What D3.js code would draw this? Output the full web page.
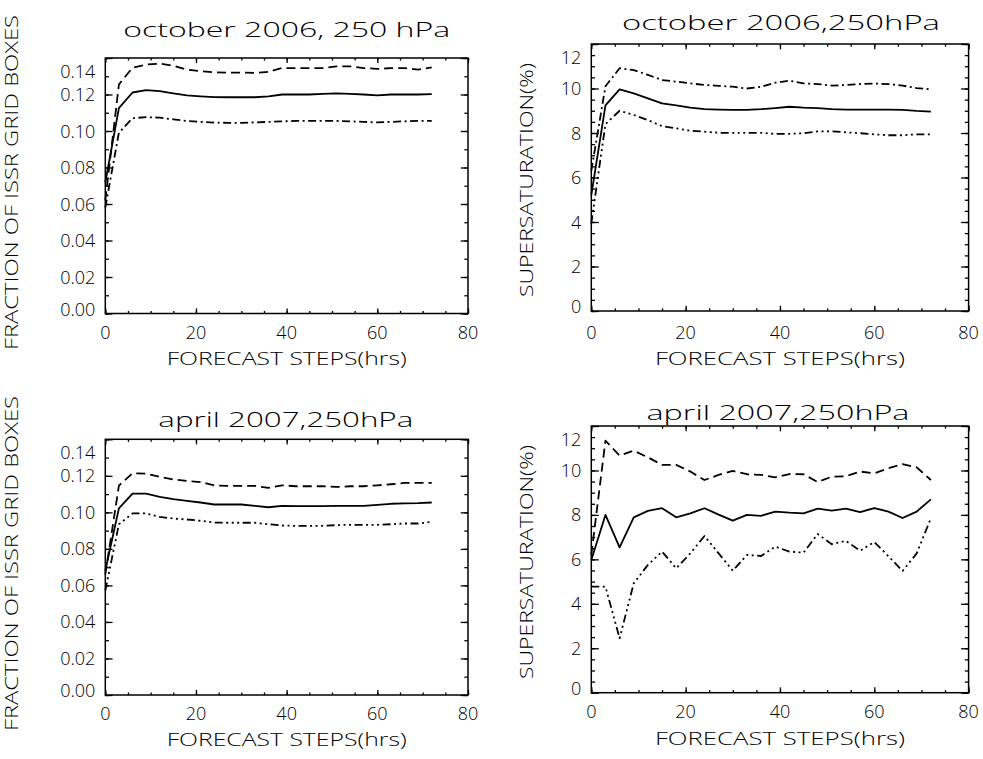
<!DOCTYPE html>
<html>
<head>
<meta charset="utf-8">
<script src="https://cdn.jsdelivr.net/npm/d3@7"></script>
<style>
  body { margin: 0; background: #fff; }
  svg { display: block; }
  text { font-family: "Open Sans", "DejaVu Sans", sans-serif; font-weight: 300; fill: #000; }
</style>
</head>
<body>
<svg width="983" height="759"></svg>
<script>
// forecast steps (hrs)
const hours = [0, 3, 6, 9, 12, 15, 18, 21, 24, 27, 30, 33, 36, 39, 42, 45, 48, 51, 54, 57, 60, 63, 66, 69, 72];

// october 2006, fraction of ISSR grid boxes
const oct06FracHigh = [0.062, 0.1255, 0.1347, 0.1364, 0.1369, 0.1358, 0.1336, 0.1328, 0.1322, 0.1320, 0.1320, 0.1318, 0.1324, 0.1345, 0.1345, 0.1345, 0.1345, 0.1354, 0.1354, 0.1345, 0.1340, 0.1345, 0.1345, 0.1336, 0.1349];
const oct06FracMean = [0.0718, 0.1125, 0.1211, 0.1224, 0.1218, 0.1206, 0.1195, 0.1190, 0.1186, 0.1185, 0.1185, 0.1185, 0.1190, 0.1200, 0.1200, 0.1200, 0.1203, 0.1206, 0.1203, 0.1200, 0.1195, 0.1200, 0.1200, 0.1200, 0.1202];
const oct06FracLow  = [0.058, 0.0991, 0.1070, 0.1076, 0.1073, 0.1064, 0.1055, 0.1050, 0.1046, 0.1045, 0.1045, 0.1047, 0.1050, 0.1053, 0.1055, 0.1055, 0.1055, 0.1055, 0.1053, 0.1050, 0.1047, 0.1050, 0.1053, 0.1055, 0.1055];

// october 2006, supersaturation (%)
const oct06SupHigh = [6.3, 10.1, 10.91, 10.83, 10.61, 10.38, 10.31, 10.23, 10.16, 10.12, 10.08, 10.0, 10.08, 10.26, 10.35, 10.23, 10.2, 10.13, 10.16, 10.2, 10.22, 10.2, 10.13, 10.02, 9.96];
const oct06SupMean = [5.21, 9.24, 9.96, 9.78, 9.56, 9.33, 9.24, 9.14, 9.07, 9.05, 9.04, 9.04, 9.07, 9.12, 9.18, 9.14, 9.12, 9.07, 9.05, 9.05, 9.05, 9.05, 9.04, 8.99, 8.96];
const oct06SupLow  = [3.94, 8.4, 9.0, 8.81, 8.58, 8.31, 8.21, 8.1, 8.06, 8.01, 8.01, 8.01, 8.01, 7.96, 7.96, 7.99, 8.07, 8.08, 8.03, 7.99, 7.94, 7.9, 7.9, 7.94, 7.94];

// april 2007, fraction of ISSR grid boxes
const apr07FracHigh = [0.066, 0.1146, 0.1214, 0.1212, 0.1194, 0.1180, 0.1172, 0.1166, 0.1148, 0.1145, 0.1145, 0.1145, 0.1134, 0.1148, 0.1143, 0.1143, 0.1143, 0.1139, 0.1143, 0.1143, 0.1148, 0.1154, 0.1161, 0.1161, 0.1161];
const apr07FracMean = [0.068, 0.1022, 0.1103, 0.1103, 0.1085, 0.1072, 0.1063, 0.1054, 0.1043, 0.1043, 0.1043, 0.1036, 0.1028, 0.1036, 0.1034, 0.1034, 0.1034, 0.1036, 0.1036, 0.1036, 0.1041, 0.1047, 0.1049, 0.1050, 0.1054];
const apr07FracLow  = [0.0572, 0.0935, 0.0994, 0.0994, 0.0975, 0.0966, 0.0961, 0.0954, 0.0944, 0.0943, 0.0943, 0.0943, 0.0935, 0.0928, 0.0926, 0.0926, 0.0926, 0.0930, 0.0932, 0.0932, 0.0932, 0.0935, 0.0939, 0.0939, 0.0948];

// april 2007, supersaturation (%)
const apr07SupHigh = [6.2, 11.34, 10.67, 10.89, 10.59, 10.25, 10.25, 9.95, 9.57, 9.8, 9.98, 9.83, 9.8, 9.69, 9.84, 9.83, 9.48, 9.72, 9.74, 9.95, 9.87, 10.1, 10.28, 10.14, 9.57];
const apr07SupMean = [5.97, 8.0, 6.54, 7.89, 8.18, 8.3, 7.89, 8.07, 8.3, 8.01, 7.74, 8.0, 7.96, 8.15, 8.1, 8.07, 8.28, 8.19, 8.28, 8.13, 8.31, 8.15, 7.86, 8.15, 8.7];
const apr07SupLow  = [4.77, 4.77, 2.45, 4.92, 5.75, 6.35, 5.6, 6.27, 7.05, 6.27, 5.49, 6.2, 6.15, 6.57, 6.35, 6.3, 7.14, 6.68, 6.83, 6.39, 6.78, 6.14, 5.48, 6.27, 7.85];

// tick labels
const xTicks = [0, 20, 40, 60, 80];
const fracTicks = [0, 0.02, 0.04, 0.06, 0.08, 0.10, 0.12, 0.14];
const supTicks = [0, 2, 4, 6, 8, 10, 12];

const titles = ["october 2006, 250 hPa", "october 2006,250hPa", "april 2007,250hPa", "april 2007,250hPa"];
const xTitle = "FORECAST STEPS(hrs)";
const fracTitle = "FRACTION OF ISSR GRID BOXES";
const supTitle = "SUPERSATURATION(%)";

// line dash styles (IDL style: dashed, dash-dot, dash-dot-dot-dot)
const DASH = "9,5";
const DASHDOT = "8,3.5,2,3.5";
const DASH3DOT = "8,3.5,2,3.5,2,3.5,2,3.5";

const panels = [
  {left: 105.3, right: 468, top: 58, bottom: 313.5, yMax: 0.14, yTicks: fracTicks, minor: 0.01, fmt: d3.format(".2f"),
   title: titles[0], tx: 286.7, ty: 36.5, tw: 327, yTitle: fracTitle, ytx: 18, yty: 182.5, ytw: 335, xlb: 339, xtb: 365, xtw: 240,
   series: [[oct06FracHigh, DASH], [oct06FracMean, null], [oct06FracLow, DASHDOT]]},
  {left: 591.3, right: 968.6, top: 44, bottom: 311, yMax: 12, yTicks: supTicks, minor: 0.5, fmt: d3.format("d"),
   title: titles[1], tx: 781, ty: 30, tw: 318, yTitle: supTitle, ytx: 533, yty: 180, ytw: 234, xlb: 339, xtb: 365, xtw: 250,
   series: [[oct06SupHigh, DASHDOT], [oct06SupMean, null], [oct06SupLow, DASH3DOT]]},
  {left: 105.3, right: 468, top: 439.3, bottom: 695, yMax: 0.14, yTicks: fracTicks, minor: 0.01, fmt: d3.format(".2f"),
   title: titles[2], tx: 285.8, ty: 427, tw: 255, yTitle: fracTitle, ytx: 18, yty: 563.5, ytw: 335, xlb: 720, xtb: 746, xtw: 240,
   series: [[apr07FracHigh, DASH], [apr07FracMean, null], [apr07FracLow, DASH3DOT]]},
  {left: 591.3, right: 968.6, top: 426, bottom: 692.7, yMax: 12, yTicks: supTicks, minor: 0.5, fmt: d3.format("d"),
   title: titles[3], tx: 778, ty: 420, tw: 263, yTitle: supTitle, ytx: 533, yty: 562, ytw: 234, xlb: 718, xtb: 745, xtw: 250,
   series: [[apr07SupHigh, DASH], [apr07SupMean, null], [apr07SupLow, DASH3DOT]]}
];

const svg = d3.select("svg");

panels.forEach(p => {
  const x = d3.scaleLinear().domain([0, 80]).range([p.left, p.right]);
  const y = d3.scaleLinear().domain([0, p.yMax]).range([p.bottom, p.top]);
  const g = svg.append("g");
  const xLen = 0.02 * (p.bottom - p.top);
  const yLen = 0.02 * (p.right - p.left);

  const xMinor = d3.range(0, 80.001, 5);
  const yMinor = d3.range(0, p.yMax + 1e-9, p.minor);

  // ticks on all four sides, pointing inward
  const drawAxis = (axis, tr) => {
    g.append("g").attr("transform", tr).call(axis)
      .call(a => a.select(".domain").remove())
      .call(a => a.selectAll("line").attr("stroke", "#000").attr("stroke-width", 1.3));
  };
  [[xMinor, xLen / 2], [xTicks, xLen]].forEach(([vals, len]) => {
    drawAxis(d3.axisBottom(x).tickValues(vals).tickSize(-len).tickFormat(""), `translate(0,${p.bottom})`);
    drawAxis(d3.axisTop(x).tickValues(vals).tickSize(-len).tickFormat(""), `translate(0,${p.top})`);
  });
  [[yMinor, yLen / 2], [p.yTicks, yLen]].forEach(([vals, len]) => {
    drawAxis(d3.axisLeft(y).tickValues(vals).tickSize(-len).tickFormat(""), `translate(${p.left},0)`);
    drawAxis(d3.axisRight(y).tickValues(vals).tickSize(-len).tickFormat(""), `translate(${p.right},0)`);
  });

  g.append("rect")
    .attr("x", p.left).attr("y", p.top)
    .attr("width", p.right - p.left).attr("height", p.bottom - p.top)
    .attr("fill", "none").attr("stroke", "#000").attr("stroke-width", 1.5);

  // tick labels
  g.selectAll("text.xl").data(xTicks).enter().append("text")
    .attr("class", "xl")
    .attr("x", d => x(d)).attr("y", p.xlb)
    .attr("text-anchor", "middle").attr("font-size", "18px")
    .text(d => d);

  const nT = p.yTicks.length;
  g.selectAll("text.yl").data(p.yTicks).enter().append("text")
    .attr("class", "yl")
    .attr("x", p.left - 10)
    .attr("y", (d, i) => i === nT - 1 ? p.top + 20 : (i === 0 ? p.bottom + 2 : y(d) + 6.5))
    .attr("text-anchor", "end").attr("font-size", "18px")
    .text(d => p.fmt(d));

  // titles
  g.append("text")
    .attr("x", p.tx).attr("y", p.ty)
    .attr("text-anchor", "middle").attr("font-size", "21px")
    .attr("textLength", p.tw).attr("lengthAdjust", "spacingAndGlyphs")
    .text(p.title);

  g.append("text")
    .attr("x", (p.left + p.right) / 2).attr("y", p.xtb)
    .attr("text-anchor", "middle").attr("font-size", "18px")
    .attr("textLength", p.xtw).attr("lengthAdjust", "spacingAndGlyphs")
    .text(xTitle);

  g.append("text")
    .attr("transform", `translate(${p.ytx},${p.yty}) rotate(-90)`)
    .attr("text-anchor", "middle").attr("font-size", "18px")
    .attr("textLength", p.ytw).attr("lengthAdjust", "spacingAndGlyphs")
    .text(p.yTitle);

  // data lines
  const line = d3.line().x((d, i) => x(hours[i])).y(d => y(d));
  p.series.forEach(([vals, dash]) => {
    g.append("path")
      .datum(vals)
      .attr("d", line)
      .attr("fill", "none")
      .attr("stroke", "#000")
      .attr("stroke-width", 1.8)
      .attr("stroke-linejoin", "round")
      .attr("stroke-dasharray", dash);
  });
});
</script>
</body>
</html>
